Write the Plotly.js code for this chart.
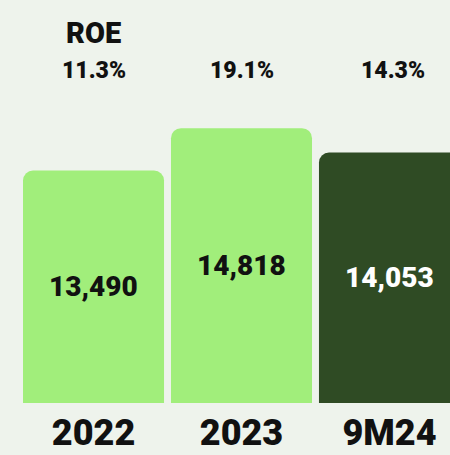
<!DOCTYPE html>
<html>
<head>
<meta charset="utf-8">
<script src="https://cdn.plot.ly/plotly-3.0.1.min.js"></script>
<style>
  html, body { margin: 0; padding: 0; background: #eef3ec; }
  #chart { width: 450px; height: 455px; }
</style>
</head>
<body>
<div id="chart"></div>
<script>
const categories = ["2022", "2023", "9M24"];
const values = [13490, 14818, 14053];
const valueLabels = ["13,490", "14,818", "14,053"];
const roe = ["11.3%", "19.1%", "14.3%"];

const barColors = ["#a1ee7b", "#a1ee7b", "#2f4b24"];
const textColors = ["#111111", "#111111", "#ffffff"];
const FONT = "Roboto, 'Open Sans', sans-serif";
const Y_RANGE = [6200, 15700];

const idx = categories.map((c, i) => i);

const trace = {
  type: "bar",
  x: idx,
  y: values,
  width: 0.953,
  marker: { color: barColors, line: { width: 0 } },
  hoverinfo: "skip"
};

const annotations = [{
  xref: "x", yref: "paper", x: 0, y: 1, yshift: 86,
  text: "ROE", showarrow: false,
  font: { family: FONT, size: 29, color: "#111111", weight: 900 }
}];
roe.forEach((r, i) => {
  annotations.push({
    xref: "x", yref: "paper", x: i, y: 1, yshift: 45, xshift: i === 2 ? 4 : 0,
    text: r, showarrow: false,
    font: { family: FONT, size: 23, color: "#111111", weight: 900 }
  });
});
values.forEach((v, i) => {
  annotations.push({
    xref: "x", yref: "y", x: i, y: (Y_RANGE[0] + v) / 2,
    text: valueLabels[i], showarrow: false,
    font: { family: FONT, size: 28, color: textColors[i], weight: 900 }
  });
});

const layout = {
  width: 450, height: 455,
  margin: { l: 0, r: 0, t: 100, b: 52 },
  paper_bgcolor: "#eef3ec",
  plot_bgcolor: "#eef3ec",
  barcornerradius: 10,
  showlegend: false,
  xaxis: {
    range: [-0.632, 2.409],
    tickvals: idx,
    ticktext: categories,
    showgrid: false, zeroline: false, showline: false,
    ticks: "",
    ticklabelstandoff: 5,
    tickfont: { family: FONT, size: 36, color: "#111111", weight: 900 },
    fixedrange: true
  },
  yaxis: {
    range: Y_RANGE,
    visible: false,
    showgrid: false, zeroline: false,
    fixedrange: true
  },
  annotations: annotations
};

Plotly.newPlot("chart", [trace], layout, { displayModeBar: false, staticPlot: true });
</script>
</body>
</html>
